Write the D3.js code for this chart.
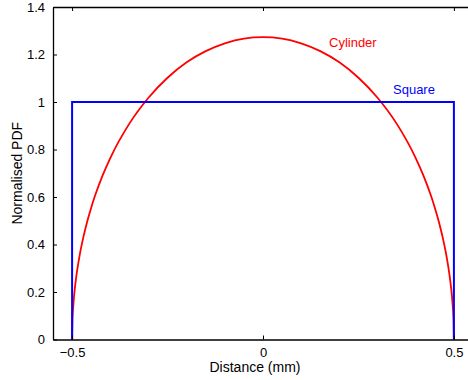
<!DOCTYPE html>
<html><head><meta charset="utf-8">
<script src="https://cdn.jsdelivr.net/npm/d3@7"></script>
<style>body{margin:0;background:#fff}svg{display:block}text{font-family:"Liberation Sans",Arial,sans-serif}</style>
</head><body><svg id="c" width="468" height="380"></svg>
<script>
const cylX = [-0.5,-0.499,-0.497,-0.495,-0.49,-0.48,-0.47,-0.46,-0.45,-0.44,-0.42,-0.4,-0.35,-0.3,-0.25,-0.2,-0.15,-0.1,-0.05,0,0.05,0.1,0.15,0.2,0.25,0.3,0.35,0.4,0.42,0.44,0.45,0.46,0.47,0.48,0.49,0.495,0.497,0.499,0.5];
const cylY = [0,0.080,0.139,0.180,0.253,0.356,0.434,0.499,0.555,0.605,0.691,0.764,0.909,1.018,1.102,1.167,1.214,1.247,1.267,1.273,1.267,1.247,1.214,1.167,1.102,1.018,0.909,0.764,0.691,0.605,0.555,0.499,0.434,0.356,0.253,0.180,0.139,0.080,0];
const sqX = [-0.5,-0.5,0.5,0.5];
const sqY = [0,1,1,0];
const xTicks = [-0.5,0,0.5];
const xTickLabels = ["\u22120.5","0","0.5"];
const yTicks = [0,0.2,0.4,0.6,0.8,1,1.2,1.4];
const yTickLabels = ["0","0.2","0.4","0.6","0.8","1","1.2","1.4"];

const svg = d3.select("#c");
const L=53, R=473, T=7, B=339.5;
const x = d3.scaleLinear().domain([-0.55,0.55]).range([L,R]);
const y = d3.scaleLinear().domain([0,1.4]).range([B,T]);

const line = d3.line().x(d=>x(d[0])).y(d=>y(d[1]));
svg.append("path").datum(cylX.map((v,i)=>[v,cylY[i]])).attr("d",line.curve(d3.curveMonotoneX))
  .attr("fill","none").attr("stroke","#ff0000").attr("stroke-width",1.8);
svg.append("path").datum(sqX.map((v,i)=>[v,sqY[i]])).attr("d",d3.line().x(d=>x(d[0])).y(d=>y(d[1])))
  .attr("fill","none").attr("stroke","#0000ff").attr("stroke-width",2);

// axes
const bx = svg.append("g").attr("transform",`translate(0,${B})`)
  .call(d3.axisBottom(x).tickValues(xTicks).tickFormat((d,i)=>xTickLabels[i]).tickSizeInner(-4).tickSizeOuter(0).tickPadding(8));
const tx = svg.append("g").attr("transform",`translate(0,${T})`)
  .call(d3.axisTop(x).tickValues(xTicks).tickFormat("").tickSizeInner(-4).tickSizeOuter(0));
const ly = svg.append("g").attr("transform",`translate(${L},0)`)
  .call(d3.axisLeft(y).tickValues(yTicks).tickFormat((d,i)=>yTickLabels[i]).tickSizeInner(-4).tickSizeOuter(0).tickPadding(8));
[bx,tx,ly].forEach(g=>{
  g.select(".domain").attr("stroke","#000").attr("stroke-width",1.3);
  g.selectAll(".tick line").attr("stroke","#000");
  g.selectAll("text").attr("font-size",13).attr("fill","#000").style("font-family","'Liberation Sans',Arial,sans-serif");
});

svg.append("text").attr("x",(L+R)/2-8).attr("y",372).attr("text-anchor","middle")
  .attr("font-size",14).text("Distance (mm)");
svg.append("text").attr("transform",`translate(22,${(T+B)/2}) rotate(-90)`).attr("text-anchor","middle")
  .attr("font-size",14).text("Normalised PDF");

svg.append("text").attr("x",329).attr("y",47).attr("fill","#ff0000").attr("font-size",13).text("Cylinder");
svg.append("text").attr("x",393).attr("y",94).attr("fill","#0000ff").attr("font-size",13).text("Square");
</script></body></html>
